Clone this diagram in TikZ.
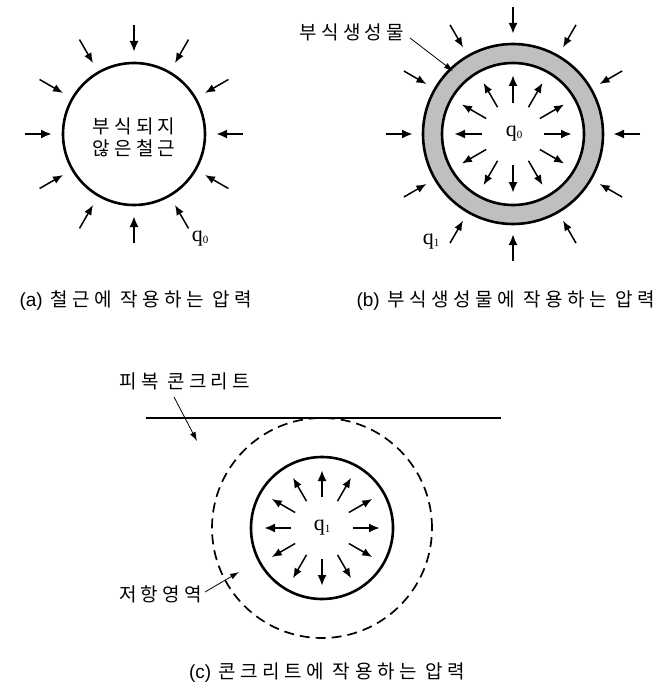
\documentclass[tikz,border=0pt]{standalone}
\usepackage{fontspec}
\setmainfont{Liberation Sans}
\newfontfamily\krcap[LetterSpace=24]{Noto Sans CJK KR}
\newfontfamily\krlab[LetterSpace=22]{Noto Sans CJK KR}
\newfontfamily\tms{Liberation Serif}
\usetikzlibrary{arrows.meta,calc}
\tikzset{
  press/.style={-{Latex[length=10pt,width=8pt]}, line width=1.5pt},
  pressaxis/.style={-{Latex[length=11pt,width=9pt]}, line width=2.3pt},
  ring/.style={line width=2.6pt},
  leader/.style={-{Latex[length=9pt,width=6pt]}, line width=0.8pt},
  capt/.style={inner sep=0pt, font=\fontsize{19}{22}\selectfont},
  lab/.style={inner sep=0pt, font=\krlab\fontsize{19}{23}\selectfont},
  qlab/.style={inner sep=0pt, font=\tms\fontsize{22}{24}\selectfont},
}
\newcommand{\qsym}[1]{q\raisebox{-2pt}{\fontsize{11}{11}\selectfont #1}}
\begin{document}
\begin{tikzpicture}[x=1pt,y=-1pt]
\useasboundingbox (0,0) rectangle (671,687);

% ---------- (a) ----------
\coordinate (A) at (134,134);
\draw[ring] (A) circle (71pt);
\foreach \a in {30,60,120,150,210,240,300,330}
  \draw[press] ($(A)+(\a:109)$) -- ($(A)+(\a:82)$);
\foreach \a in {0,90,180,270}
  \draw[pressaxis] ($(A)+(\a:109)$) -- ($(A)+(\a:82)$);
\node[lab, align=center] (atext) at (134,137) {부식되지\\[-1pt]않은철근};
\node[qlab] (aq) at (200,239) {\qsym{0}};
\node[capt] (acap) at (136,301) {(a)\hspace{2pt} {\krcap 철근에 작용하는 압력}};

% ---------- (b) ----------
\coordinate (B) at (513,134);
\fill[gray!50, even odd rule] (B) circle (90pt) (B) circle (71pt);
\draw[ring] (B) circle (90pt);
\draw[ring] (B) circle (71pt);
\foreach \a in {30,60,120,150,210,240,300,330}{
  \draw[press] ($(B)+(\a:126)$) -- ($(B)+(\a:100)$);
  \draw[press] ($(B)+(\a:31)$) -- ($(B)+(\a:59)$);
}
\foreach \a in {0,90,180,270}{
  \draw[pressaxis] ($(B)+(\a:127)$) -- ($(B)+(\a:100)$);
  \draw[pressaxis] ($(B)+(\a:31)$) -- ($(B)+(\a:59)$);
}
\node[qlab] (bq0) at (514,134) {\qsym{0}};
\node[qlab] (bq1) at (431,242) {\qsym{1}};
\node[lab] (btext) at (352,32) {부식생성물};
\coordinate (bstart) at (410,38);
\coordinate (bpt) at (453,71);
\draw[leader] (bstart) -- (bpt);
\node[capt] (bcap) at (506,301) {(b)\hspace{2pt} {\krcap 부식생성물에 작용하는 압력}};

% ---------- (c) ----------
\coordinate (C) at (322,528);
\draw[line width=2.8pt] (146,418) coordinate (l1) -- (501,418) coordinate (l2);
\draw[line width=1.7pt, dash pattern=on 10pt off 6pt] (C) circle (110pt);
\draw[ring] (C) circle (71pt);
\foreach \a in {30,60,120,150,210,240,300,330}
  \draw[press] ($(C)+(\a:31)$) -- ($(C)+(\a:58)$);
\foreach \a in {0,90,180,270}
  \draw[pressaxis] ($(C)+(\a:31)$) -- ($(C)+(\a:58)$);
\node[qlab] (cq) at (322,528) {\qsym{1}};
\node[lab] (ctext1) at (185,381) {피복 콘크리트};
\coordinate (cs1) at (174,397);
\coordinate (cpt1) at (197,441);
\draw[leader] (cs1) -- (cpt1);
\node[lab, anchor=east] (ctext2) at (202,594) {저항영역};
\coordinate (cs2) at (205,592);
\coordinate (cpt2) at (239,572);
\draw[leader] (cs2) -- (cpt2);
\node[capt] (ccap) at (327,673) {(c)\hspace{2pt} {\krcap 콘크리트에 작용하는 압력}};
\end{tikzpicture}
\end{document}
